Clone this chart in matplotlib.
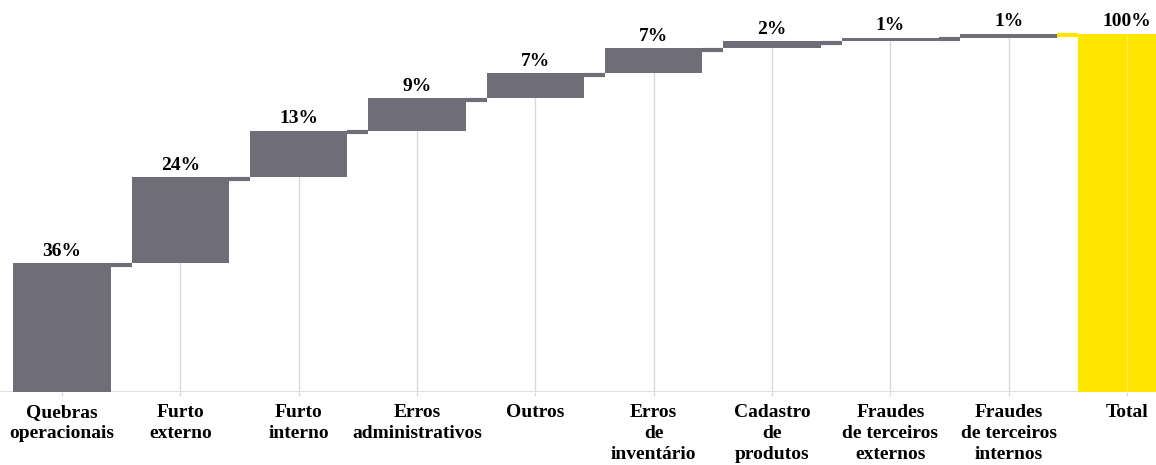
import numpy as np
import matplotlib.pyplot as plt

categories = ["Quebras\noperacionais", "Furto\nexterno", "Furto\ninterno",
              "Erros\nadministrativos", "Outros", "Erros\nde\ninventário",
              "Cadastro\nde\nprodutos", "Fraudes\nde terceiros\nexternos",
              "Fraudes\nde terceiros\ninternos", "Total"]
shares = [36, 24, 13, 9, 7, 7, 2, 1, 1]
total = 100

GRAY = "#6f6e78"
YELLOW = "#ffe500"
GRID = "#d9d9d9"

plt.rcParams["font.family"] = ["Liberation Serif", "DejaVu Serif"]
plt.rcParams["font.weight"] = "bold"

fig = plt.figure(figsize=(11.56, 4.65), dpi=100)
ax = fig.add_axes([0, 0.157, 1, 0.843])

x = np.arange(len(categories))
w = 0.82
tops = np.cumsum(shares)
bottoms = tops - np.array(shares)

# gridlines only run up to the bars
ax.vlines(x[:-1], 0, bottoms + 1, color=GRID, lw=1, zorder=0)
ax.axhline(0, color=GRID, lw=1.2, zorder=0)

ax.bar(x[:-1], shares, bottom=bottoms, width=w, color=GRAY, zorder=2)
ax.bar(x[-1], total, width=w, color=YELLOW, zorder=2)
ax.vlines(x[-1], 0, total, color="white", lw=1, alpha=0.35, zorder=3)

levels = list(tops)
for i, lv in enumerate(levels):
    c = GRAY if i < len(levels) - 1 else YELLOW
    ax.plot([x[i] + w / 2, x[i + 1] - w / 2], [lv - 0.4, lv - 0.4], color=c, lw=3, zorder=2,
            solid_capstyle="butt")

labels = [f"{s}%" for s in shares] + [f"{total}%"]
label_y = list(tops) + [total]
for xi, ly, t in zip(x, label_y, labels):
    ax.text(xi, ly + 1.0, t, ha="center", va="bottom", fontsize=14, fontweight="bold")

ax.set_xlim(-0.524, 9.245)
ax.set_ylim(0, 109.5)
ax.set_yticks([])
ax.set_xticks(x)
ax.set_xticklabels(categories, fontsize=14, fontweight="bold", linespacing=1.3)
ax.tick_params(axis="x", length=3, color=GRID, pad=6)
for s in ax.spines.values():
    s.set_visible(False)

fig.savefig("out.png", dpi=100)
